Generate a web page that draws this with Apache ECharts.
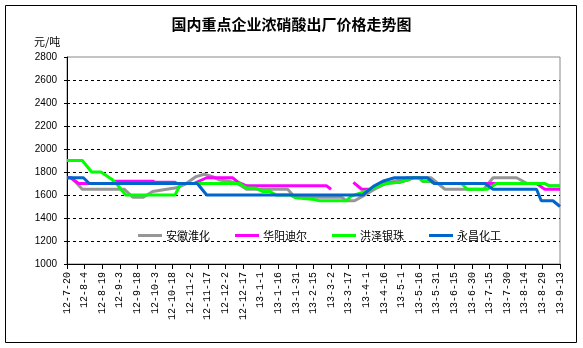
<!DOCTYPE html>
<html>
<head>
<meta charset="utf-8">
<script src="https://cdn.jsdelivr.net/npm/echarts@6/dist/echarts.min.js"></script>
<style>
  html, body { margin: 0; padding: 0; background: #ffffff; }
  #chart { width: 583px; height: 348px; }
</style>
</head>
<body>
<div id="chart"></div>
<script>
// Price history (元/吨) per producer, as [date, price] change points.
const anhuiHuaihua = [
  ['2012-07-20', 1750], ['2012-07-24', 1750], ['2012-08-02', 1650], ['2012-09-07', 1650],
  ['2012-09-14', 1580], ['2012-09-23', 1580], ['2012-10-01', 1630], ['2012-10-13', 1650],
  ['2012-10-20', 1660], ['2012-10-28', 1690], ['2012-11-07', 1760], ['2012-11-14', 1780],
  ['2012-11-21', 1760], ['2012-11-27', 1730], ['2012-12-05', 1720], ['2012-12-12', 1700],
  ['2012-12-20', 1650], ['2013-01-24', 1650], ['2013-01-30', 1580], ['2013-03-11', 1580],
  ['2013-03-15', 1550], ['2013-03-22', 1550], ['2013-03-29', 1590], ['2013-04-08', 1650],
  ['2013-04-18', 1700], ['2013-05-06', 1750], ['2013-05-26', 1750], ['2013-06-01', 1700],
  ['2013-06-07', 1650], ['2013-07-10', 1650], ['2013-07-18', 1750], ['2013-08-07', 1750],
  ['2013-08-16', 1700], ['2013-08-31', 1700], ['2013-09-04', 1680], ['2013-09-13', 1680]
];
const huayangDier = [
  ['2012-07-20', 1750], ['2012-07-23', 1750], ['2012-07-30', 1700], ['2012-08-27', 1700],
  ['2012-08-30', 1720], ['2012-10-01', 1720], ['2012-10-03', 1710], ['2012-10-20', 1710],
  ['2012-10-22', 1700], ['2012-11-05', 1700], ['2012-11-16', 1750], ['2012-12-08', 1750],
  ['2012-12-13', 1710], ['2012-12-20', 1680], ['2013-02-26', 1680], ['2013-03-02', 1650],
  ['2013-03-10', null],
  ['2013-03-21', 1710], ['2013-03-28', 1650], ['2013-04-05', 1650], ['2013-04-14', 1700],
  ['2013-04-29', 1710], ['2013-05-06', 1730], ['2013-05-11', 1750], ['2013-05-16', 1750],
  ['2013-05-19', 1720], ['2013-05-26', 1720], ['2013-05-29', 1700], ['2013-08-24', 1700],
  ['2013-08-31', 1650], ['2013-09-13', 1650]
];
const hongzeYinzhu = [
  ['2012-07-20', 1900], ['2012-08-02', 1900], ['2012-08-10', 1800], ['2012-08-18', 1800],
  ['2012-08-28', 1730], ['2012-08-31', 1700], ['2012-09-08', 1600], ['2012-10-20', 1600],
  ['2012-10-25', 1700], ['2012-12-14', 1700], ['2012-12-20', 1660], ['2012-12-28', 1660],
  ['2013-01-03', 1630], ['2013-01-09', 1630], ['2013-01-14', 1600], ['2013-01-26', 1600],
  ['2013-01-31', 1575], ['2013-02-16', 1560], ['2013-02-20', 1550], ['2013-03-15', 1550],
  ['2013-03-19', 1590], ['2013-03-31', 1630], ['2013-04-05', 1650], ['2013-04-10', 1675],
  ['2013-04-18', 1700], ['2013-04-29', 1710], ['2013-05-06', 1730], ['2013-05-11', 1750],
  ['2013-05-16', 1750], ['2013-05-19', 1720], ['2013-05-26', 1720], ['2013-05-29', 1700],
  ['2013-06-21', 1700], ['2013-06-26', 1650], ['2013-07-13', 1650], ['2013-07-21', 1700],
  ['2013-08-31', 1700], ['2013-09-04', 1680], ['2013-09-13', 1680]
];
const yongchangHuagong = [
  ['2012-07-20', 1750], ['2012-08-03', 1750], ['2012-08-08', 1700], ['2012-11-08', 1700],
  ['2012-11-16', 1600], ['2013-03-29', 1600], ['2013-04-07', 1675], ['2013-04-15', 1720],
  ['2013-04-25', 1750], ['2013-05-23', 1750], ['2013-05-29', 1700], ['2013-07-11', 1700],
  ['2013-07-18', 1650], ['2013-08-24', 1650], ['2013-08-28', 1550], ['2013-09-07', 1550],
  ['2013-09-13', 1500]
];

const seriesNames = ['安徽淮化', '华阳迪尔', '洪泽银珠', '永昌化工'];
const seriesColors = ['#969696', '#ff00ff', '#00ff00', '#0066cc'];

// Date labels on the horizontal axis, one every 15 days.
const dateTicks = [
  '12-7-20', '12-8-4', '12-8-19', '12-9-3', '12-9-18', '12-10-3', '12-10-18', '12-11-2',
  '12-11-17', '12-12-2', '12-12-17', '13-1-1', '13-1-16', '13-1-31', '13-2-15', '13-3-2',
  '13-3-17', '13-4-1', '13-4-16', '13-5-1', '13-5-16', '13-5-31', '13-6-15', '13-6-30',
  '13-7-15', '13-7-30', '13-8-14', '13-8-29', '13-9-13'
];
const tickStepDays = 15;
const startDay = Date.UTC(2012, 6, 20);

function dayIndex(s) {
  const p = s.split('-').map(Number);
  return Math.round((Date.UTC(p[0], p[1] - 1, p[2]) - startDay) / 86400000);
}
function toPoints(rows) {
  return rows.map(r => [dayIndex(r[0]), r[1] == null ? '-' : r[1]]);
}

const chart = echarts.init(document.getElementById('chart'), null, { renderer: 'canvas' });
const allRows = [anhuiHuaihua, huayangDier, hongzeYinzhu, yongchangHuagong];

chart.setOption({
  backgroundColor: '#ffffff',
  animation: false,
  graphic: [
    {
      type: 'rect', silent: true,
      shape: { x: 5.5, y: 5.5, width: 571, height: 337 },
      style: { fill: 'none', stroke: '#000000', lineWidth: 1 }
    },
    {
      type: 'text', left: 'center', top: 17,
      style: { text: '国内重点企业浓硝酸出厂价格走势图', font: 'bold 15px "Noto Sans CJK SC"', fill: '#000000' }
    },
    {
      type: 'text', left: 34, top: 36,
      style: { text: '元/吨', font: '11px "Noto Sans CJK SC"', fill: '#000000' }
    }
  ],
  legend: {
    left: 133, top: 225,
    itemWidth: 24, itemHeight: 3, itemGap: 25,
    icon: 'rect',
    textStyle: { fontFamily: '"Noto Sans CJK SC"', fontSize: 11, color: '#000000', padding: [0, 0, 0, -1] },
    data: seriesNames
  },
  grid: {
    left: 67, top: 57, right: 23, bottom: 84,
    show: true, borderColor: '#888888', borderWidth: 1
  },
  xAxis: {
    type: 'value', min: 0, max: 420, interval: tickStepDays,
    axisLine: { show: true, lineStyle: { color: '#000000', width: 1 } },
    axisTick: { show: true, length: 5, lineStyle: { color: '#000000' } },
    splitLine: { show: false },
    axisLabel: {
      rotate: 90, margin: 8,
      fontFamily: '"Liberation Mono"', fontSize: 10, color: '#000000',
      formatter: v => dateTicks[Math.round(v / tickStepDays)] || ''
    }
  },
  yAxis: {
    type: 'value', min: 1000, max: 2800, interval: 200,
    axisLine: { show: true, lineStyle: { color: '#000000', width: 1 } },
    axisTick: { show: true, length: 3, lineStyle: { color: '#000000' } },
    axisLabel: {
      margin: 10, fontFamily: 'Arial, "Liberation Sans"', fontSize: 10, color: '#000000',
      formatter: v => String(v)
    },
    splitLine: { show: true, showMinLine: false, showMaxLine: false, lineStyle: { color: '#000000', type: [3, 3], width: 1 } }
  },
  series: allRows.map((rows, i) => ({
    name: seriesNames[i],
    type: 'line',
    data: toPoints(rows),
    showSymbol: false,
    connectNulls: false,
    color: seriesColors[i],
    lineStyle: { color: seriesColors[i], width: 3 },
    z: 2 + i
  }))
});
</script>
</body>
</html>
